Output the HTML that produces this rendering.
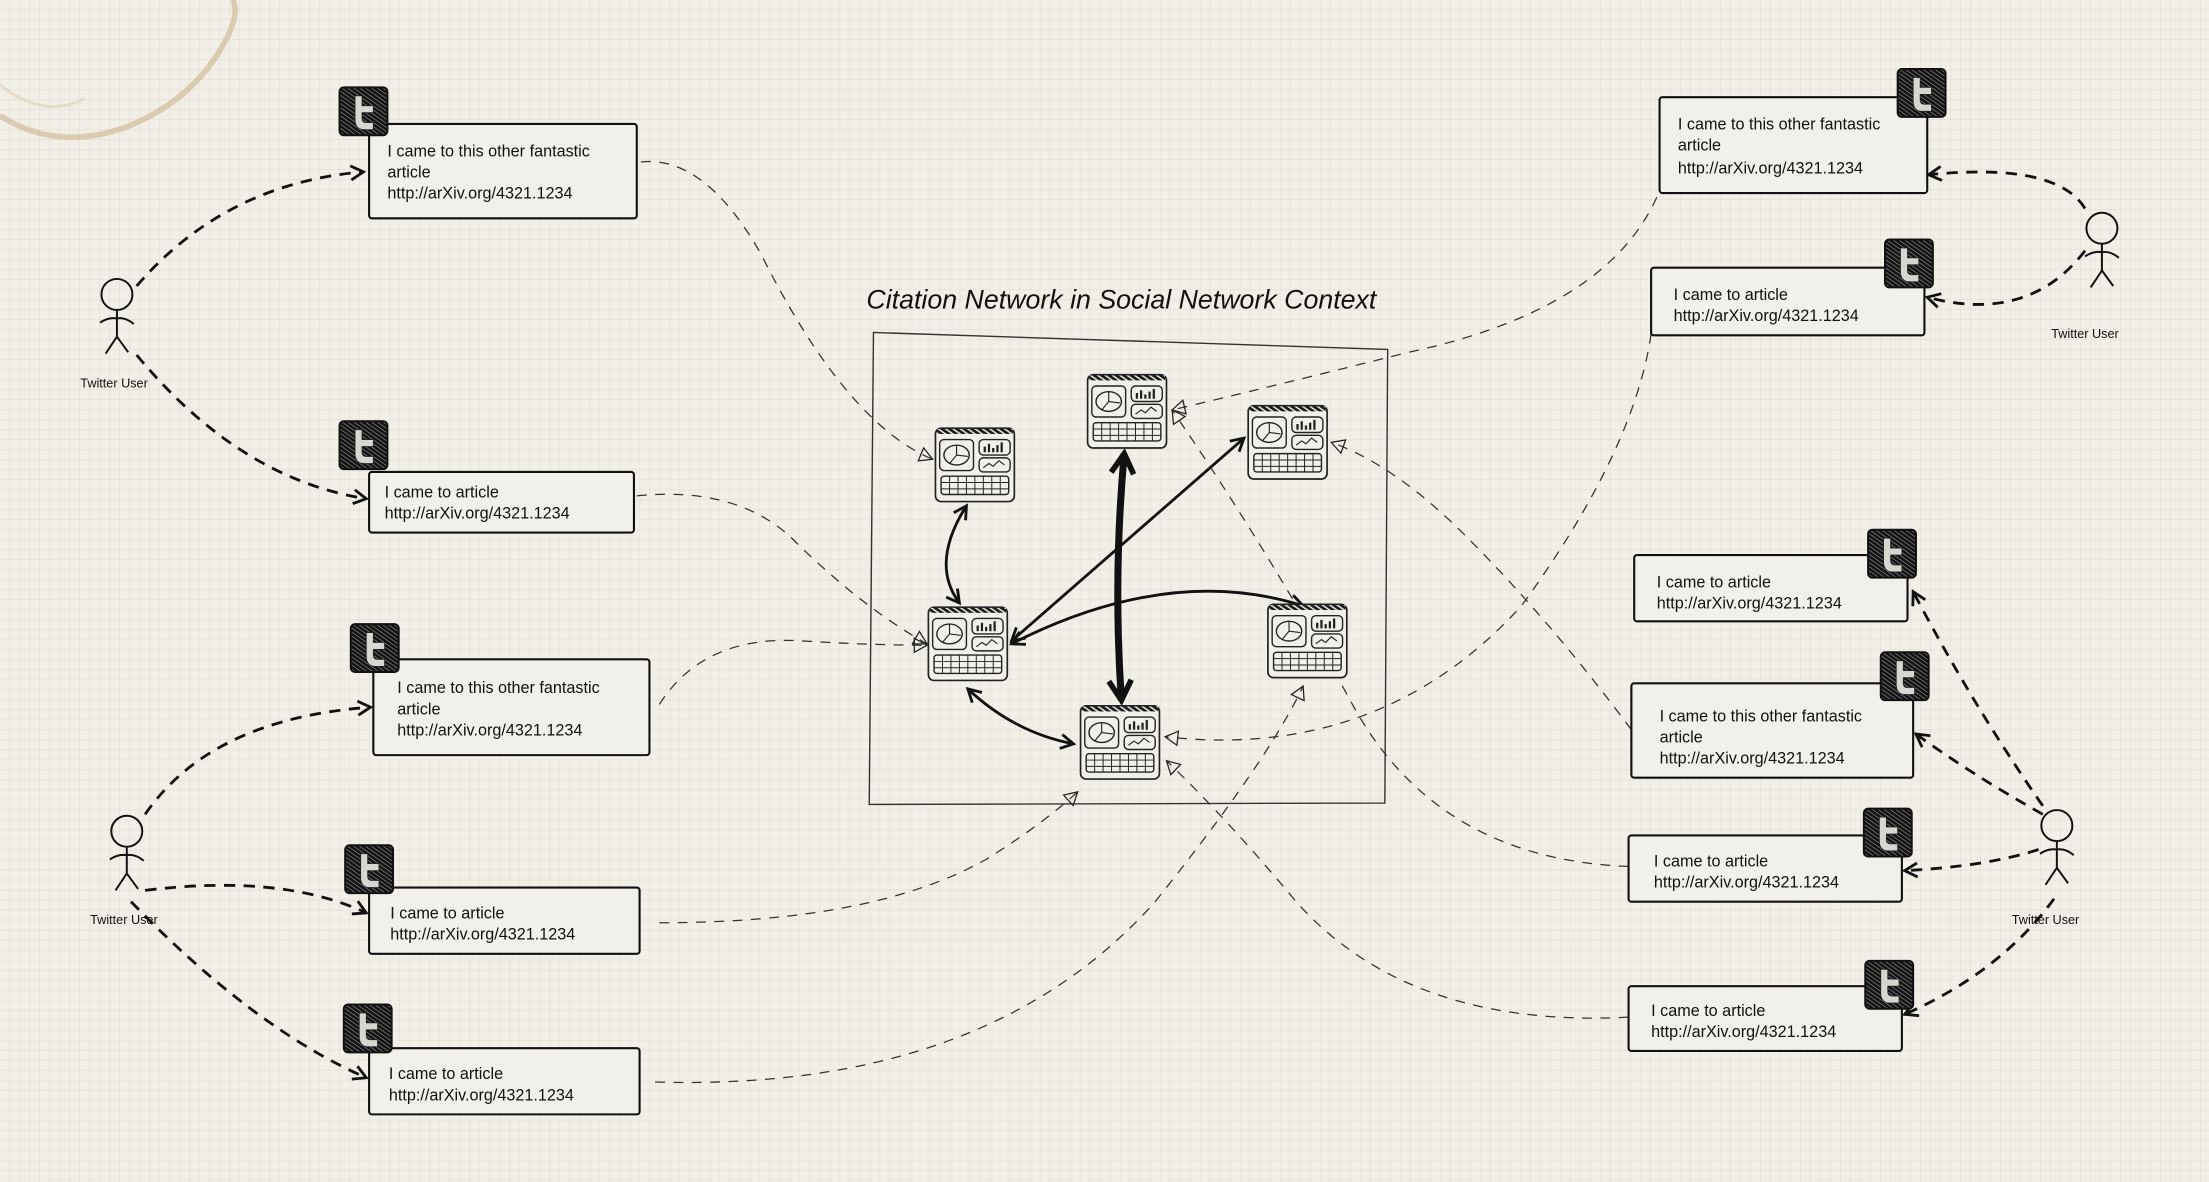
<!DOCTYPE html>
<html><head><meta charset="utf-8"><style>
html,body{margin:0;padding:0;background:#f1efe8;}
svg{display:block}
text{font-family:"Liberation Sans",sans-serif;fill:#111}
</style></head><body>
<svg width="2209" height="1182" viewBox="0 0 1568 839" preserveAspectRatio="none" xmlns="http://www.w3.org/2000/svg">
<defs>
<pattern id="grid" width="7.1" height="7.1" patternUnits="userSpaceOnUse">
<path d="M7.1 0V7.1H0" fill="none" stroke="#ddd8c8" stroke-width="0.6"/>
</pattern>
<pattern id="hatch" width="3" height="3" patternUnits="userSpaceOnUse" patternTransform="rotate(35)">
<rect width="3" height="3" fill="#e8e6e0"/><rect width="3" height="1.9" fill="#1a1a1a"/>
</pattern>
<pattern id="hatchD" width="2.4" height="2.4" patternUnits="userSpaceOnUse" patternTransform="rotate(35)">
<rect width="2.4" height="2.4" fill="#777"/><rect width="2.4" height="1.8" fill="#111"/>
</pattern>
<marker id="open" markerWidth="12" markerHeight="12" refX="10" refY="6" orient="auto" markerUnits="userSpaceOnUse">
<path d="M1 1L10 6L1 11" fill="none" stroke="#111" stroke-width="2"/>
</marker>
<marker id="openS" markerWidth="12" markerHeight="12" refX="10" refY="6" orient="auto-start-reverse" markerUnits="userSpaceOnUse">
<path d="M1 1L10 6L1 11" fill="none" stroke="#111" stroke-width="2"/>
</marker>
<marker id="big" markerWidth="20" markerHeight="20" refX="16" refY="10" orient="auto-start-reverse" markerUnits="userSpaceOnUse">
<path d="M2 2L16 10L2 18" fill="none" stroke="#111" stroke-width="4"/>
</marker>
<marker id="tri" markerWidth="12" markerHeight="12" refX="10" refY="6" orient="auto" markerUnits="userSpaceOnUse">
<path d="M1 1L10 6L1 11Z" fill="none" stroke="#222" stroke-width="0.9"/>
</marker>
<symbol id="db" viewBox="0 0 58 55">
<rect x="1" y="1" width="56" height="52" rx="4" fill="#f2f0ea" stroke="#222" stroke-width="1.2"/>
<rect x="2" y="1.5" width="54" height="3.5" fill="url(#hatch)"/>
<rect x="4" y="9" width="24" height="22" rx="3" fill="none" stroke="#222"/>
<ellipse cx="16" cy="20" rx="9" ry="7" fill="none" stroke="#222"/>
<path d="M16 20L16 13M16 20L24 21M16 20L11 26" stroke="#222" stroke-width="0.8"/>
<rect x="32" y="9" width="22" height="11" rx="3" fill="none" stroke="#222"/>
<path d="M36 18v-4M39 18v-6M42 18v-3M45 18v-5M48 18v-7" stroke="#222" stroke-width="1.6"/>
<rect x="32" y="22" width="22" height="10" rx="3" fill="none" stroke="#222"/>
<path d="M35 29l4-3 3 2 4-4 4 3" fill="none" stroke="#222" stroke-width="0.8"/>
<rect x="5" y="35" width="48" height="13" rx="2" fill="none" stroke="#222"/>
<path d="M5 39.5h48M5 44h48M11 35v13M17 35v13M23 35v13M29 35v13M35 35v13M41 35v13M47 35v13" stroke="#222" stroke-width="0.7"/>
</symbol>
<symbol id="tw" viewBox="0 0 36 36">
<rect x="1" y="1" width="34" height="34" rx="3" fill="url(#hatchD)" stroke="#111" stroke-width="1.4"/>
<path d="M12 7h5v7h8v5h-8v4c0 2 1 3 3 3h5v5h-7c-4 0-6-3-6-7z" fill="#d8d6d0" stroke="#222" stroke-width="0.6"/>
</symbol>
<symbol id="user" viewBox="0 0 40 60">
<circle cx="20" cy="12" r="11" fill="none" stroke="#111" stroke-width="1.4"/>
<path d="M20 23V42M8 32Q14 28 20 29Q26 28 32 33M20 42L12 54M20 42L28 53" fill="none" stroke="#111" stroke-width="1.4"/>
</symbol>
</defs>
<rect width="1568" height="839" fill="#f1efe8"/>
<rect width="1568" height="839" fill="url(#grid)"/>
<!-- coffee stain -->
<path d="M0 82Q40 108 90 90Q140 70 162 25Q170 8 165 0" fill="none" stroke="#c9ad84" stroke-width="4" opacity="0.55"/>
<path d="M0 60Q30 85 60 70" fill="none" stroke="#d4bd98" stroke-width="2" opacity="0.4"/>

<!-- frame -->
<path d="M620 236L985 248L983 570L617 571Z" fill="none" stroke="#333" stroke-width="1"/>
<text x="615" y="219" font-size="19" font-style="italic">Citation Network in Social Network Context</text>

<!-- thin dashed connectors -->
<g fill="none" stroke="#333" stroke-width="0.9" stroke-dasharray="7,6" marker-end="url(#tri)">
<path d="M455 115Q500 110 540 180Q600 300 662 326"/>
<path d="M452 352Q520 345 560 380Q610 430 658 457"/>
<path d="M468 500Q500 450 570 455Q620 458 658 458"/>
<path d="M468 655Q620 655 700 610Q740 585 765 562"/>
<path d="M465 768Q700 775 820 640Q900 540 925 487"/>
<path d="M1176 140Q1140 220 1000 250Q900 275 832 291"/>
<path d="M1172 237Q1160 320 1080 430Q980 540 827 523"/>
<path d="M1158 518Q1100 440 1040 380Q990 330 945 314"/>
<path d="M1156 615Q1020 610 960 500Q900 390 832 291"/>
<path d="M1156 722Q1000 730 920 640Q870 580 828 540"/>
</g>

<!-- solid network edges -->
<g fill="none" stroke="#111" stroke-width="2" marker-start="url(#openS)" marker-end="url(#openS)">
<path d="M686 359Q660 400 681 428"/>
<path d="M687 489Q720 520 762 528"/>
<path d="M718 455L883 311"/>
<path d="M718 457Q830 400 925 430"/>
</g>
<path d="M798 322Q790 410 796 497" fill="none" stroke="#111" stroke-width="5" marker-start="url(#big)" marker-end="url(#big)"/>

<!-- dashboards -->
<use href="#db" x="663" y="303" width="58" height="55"/>
<use href="#db" x="771" y="265" width="58" height="55"/>
<use href="#db" x="885" y="287" width="58" height="55"/>
<use href="#db" x="658" y="430" width="58" height="55"/>
<use href="#db" x="899" y="428" width="58" height="55"/>
<use href="#db" x="766" y="500" width="58" height="55"/>

<!-- user -> tweet dashed arrows -->
<g fill="none" stroke="#111" stroke-width="2" stroke-dasharray="8,6" marker-end="url(#open)">
<path d="M97 203Q160 130 258 122"/>
<path d="M97 252Q170 340 260 354"/>
<path d="M103 578Q150 510 263 502"/>
<path d="M103 632Q200 620 260 648"/>
<path d="M93 640Q180 730 260 765"/>
<path d="M1480 148Q1460 115 1369 124"/>
<path d="M1480 178Q1440 230 1368 211"/>
<path d="M1450 572Q1400 500 1358 420"/>
<path d="M1450 578Q1400 550 1360 521"/>
<path d="M1447 603Q1410 615 1352 618"/>
<path d="M1458 638Q1420 690 1352 720"/>
</g>

<!-- users -->
<use href="#user" x="63" y="197" width="40" height="60"/>
<text x="57" y="275" font-size="9">Twitter User</text>
<use href="#user" x="70" y="578" width="40" height="60"/>
<text x="64" y="656" font-size="9">Twitter User</text>
<use href="#user" x="1472" y="150" width="40" height="60"/>
<text x="1456" y="240" font-size="9">Twitter User</text>
<use href="#user" x="1440" y="574" width="40" height="60"/>
<text x="1428" y="656" font-size="9">Twitter User</text>

<!-- tweet boxes -->
<g fill="#f2f0ea" stroke="#111" stroke-width="1.5">
<rect x="262" y="88" width="190" height="67" rx="2"/>
<rect x="262" y="335" width="188" height="43" rx="2"/>
<rect x="265" y="468" width="196" height="68" rx="2"/>
<rect x="262" y="630" width="192" height="47" rx="2"/>
<rect x="262" y="744" width="192" height="47" rx="2"/>
<rect x="1178" y="69" width="190" height="68" rx="2"/>
<rect x="1172" y="190" width="194" height="48" rx="2"/>
<rect x="1160" y="394" width="194" height="47" rx="2"/>
<rect x="1158" y="485" width="200" height="67" rx="2"/>
<rect x="1156" y="593" width="194" height="47" rx="2"/>
<rect x="1156" y="700" width="194" height="46" rx="2"/>
</g>
<use href="#tw" x="240" y="61" width="36" height="36"/>
<use href="#tw" x="240" y="298" width="36" height="36"/>
<use href="#tw" x="248" y="442" width="36" height="36"/>
<use href="#tw" x="244" y="599" width="36" height="36"/>
<use href="#tw" x="243" y="712" width="36" height="36"/>
<use href="#tw" x="1346" y="48" width="36" height="36"/>
<use href="#tw" x="1337" y="169" width="36" height="36"/>
<use href="#tw" x="1325" y="375" width="36" height="36"/>
<use href="#tw" x="1334" y="462" width="36" height="36"/>
<use href="#tw" x="1322" y="573" width="36" height="36"/>
<use href="#tw" x="1323" y="681" width="36" height="36"/>

<g font-size="11.5">
<text x="275" y="111">I came to this other fantastic</text><text x="275" y="126">article</text><text x="275" y="141">http://arXiv.org/4321.1234</text>
<text x="273" y="353">I came to article</text><text x="273" y="368">http://arXiv.org/4321.1234</text>
<text x="282" y="492">I came to this other fantastic</text><text x="282" y="507">article</text><text x="282" y="522">http://arXiv.org/4321.1234</text>
<text x="277" y="652">I came to article</text><text x="277" y="667">http://arXiv.org/4321.1234</text>
<text x="276" y="766">I came to article</text><text x="276" y="781">http://arXiv.org/4321.1234</text>
<text x="1191" y="92">I came to this other fantastic</text><text x="1191" y="107">article</text><text x="1191" y="123">http://arXiv.org/4321.1234</text>
<text x="1188" y="213">I came to article</text><text x="1188" y="228">http://arXiv.org/4321.1234</text>
<text x="1176" y="417">I came to article</text><text x="1176" y="432">http://arXiv.org/4321.1234</text>
<text x="1178" y="512">I came to this other fantastic</text><text x="1178" y="527">article</text><text x="1178" y="542">http://arXiv.org/4321.1234</text>
<text x="1174" y="615">I came to article</text><text x="1174" y="630">http://arXiv.org/4321.1234</text>
<text x="1172" y="721">I came to article</text><text x="1172" y="736">http://arXiv.org/4321.1234</text>
</g>
</svg>
</body></html>
